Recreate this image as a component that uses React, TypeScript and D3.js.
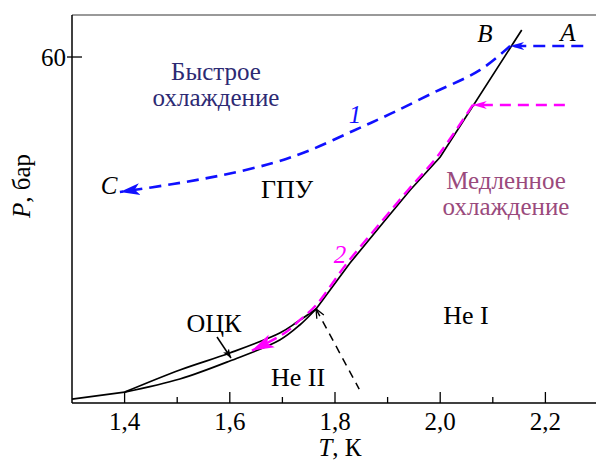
import React from 'react';
import * as d3 from 'd3';

type Pt = [number, number];

// T (K), P (bar)
const meltLow: Pt[] = [[1.3, 25.4], [1.4, 26.1]];
const bccUpper: Pt[] = [[1.4, 26.1], [1.505, 28.34], [1.6, 30.06], [1.695, 32.08], [1.728, 33.19], [1.764, 34.51]];
const bccLower: Pt[] = [[1.4, 26.1], [1.505, 27.43], [1.6, 29.25], [1.695, 31.37], [1.733, 32.89], [1.764, 34.51]];
const meltHigh: Pt[] = [[1.764, 34.51], [1.8285, 39.16], [1.891, 43.21], [1.943, 46.55], [2.0, 49.89], [2.155, 62.73]];
const lambdaLine: Pt[] = [[1.764, 34.51], [1.846, 26.4]];

const fastIn: Pt[] = [[2.272, 61.12], [2.133, 61.12]];
const fastPath: Pt[] = [[2.133, 61.12], [2.076, 58.69], [1.986, 56.36], [1.905, 54.24], [1.834, 52.52], [1.753, 50.59], [1.682, 49.28], [1.587, 48.07], [1.492, 47.15], [1.391, 46.35]];
const slowIn: Pt[] = [[2.237, 55.15], [2.062, 55.15]];
const slowPath: Pt[] = [[2.062, 55.15], [1.994, 49.9], [1.939, 46.55], [1.886, 43.2], [1.823, 39.16], [1.764, 34.9], [1.7335, 33.4], [1.705, 32.1], [1.642, 30.3]];

const xMajor = [1.4, 1.6, 1.8, 2.0, 2.2];
const xMinor = [1.5, 1.7, 1.9, 2.1];
const yTicks = [60];

const W = 596, H = 461;
const left = 72, right = 598, top = 15, bottom = 403;

const x = d3.scaleLinear().domain([1.3, 2.3]).range([left, right]);
const y = d3.scaleLinear().domain([25, 64.25]).range([bottom, top]);

const line = d3.line<Pt>().x(d => x(d[0])).y(d => y(d[1]));
const smooth = d3.line<Pt>().x(d => x(d[0])).y(d => y(d[1])).curve(d3.curveCatmullRom);

const font = "'Liberation Serif', 'DejaVu Serif', serif";
const BLUE = '#1010ff';
const MAG = '#ff00ff';

export default function App() {
  const fmt = (v: number) => v.toFixed(1).replace('.', ',');
  const T = (props: React.SVGProps<SVGTextElement>) => <text {...props} style={{ fontFamily: font }} />;
  return (
    <svg width={W} height={H} style={{ position: 'absolute', left: 0, top: 0, background: '#fff', fontFamily: font }}>
      <defs>
        <marker id="arrB" markerUnits="userSpaceOnUse" markerWidth="22" markerHeight="14" refX="20" refY="7" orient="auto" viewBox="0 0 22 14">
          <path d="M0,1 L20,7 L0,13 L5,7 Z" fill={BLUE} />
        </marker>
        <marker id="arrBs" markerUnits="userSpaceOnUse" markerWidth="16" markerHeight="10" refX="14" refY="5" orient="auto" viewBox="0 0 16 10">
          <path d="M0,1 L14,5 L0,9 L4,5 Z" fill={BLUE} />
        </marker>
        <marker id="arrM" markerUnits="userSpaceOnUse" markerWidth="24" markerHeight="16" refX="22" refY="8" orient="auto" viewBox="0 0 24 16">
          <path d="M0,1 L22,8 L0,15 L5,8 Z" fill={MAG} />
        </marker>
        <marker id="arrMs" markerUnits="userSpaceOnUse" markerWidth="16" markerHeight="10" refX="14" refY="5" orient="auto" viewBox="0 0 16 10">
          <path d="M0,1 L14,5 L0,9 L4,5 Z" fill={MAG} />
        </marker>
        <marker id="arrK" markerUnits="userSpaceOnUse" markerWidth="10" markerHeight="8" refX="9" refY="4" orient="auto" viewBox="0 0 10 8">
          <path d="M0,0.5 L9,4 L0,7.5 L2,4 Z" fill="#000" />
        </marker>
        <marker id="caret" markerUnits="userSpaceOnUse" markerWidth="12" markerHeight="10" refX="1" refY="5" orient="auto" viewBox="0 0 12 10">
          <path d="M10,1 L1,5 L10,9" fill="none" stroke="#000" strokeWidth="1.3" />
        </marker>
      </defs>

      {/* frame */}
      <line x1={left} x2={W} y1={top} y2={top} stroke="#777" strokeWidth={1.5} />
      <line x1={left} x2={left} y1={top} y2={bottom} stroke="#000" strokeWidth={1.5} />
      <line x1={left} x2={W} y1={bottom} y2={bottom} stroke="#000" strokeWidth={1.5} />

      {xMajor.map(t => (
        <g key={t}>
          <line x1={x(t)} x2={x(t)} y1={bottom} y2={bottom - 11} stroke="#000" strokeWidth={1.3} />
          <T x={x(t)} y={430} fontSize={25} textAnchor="middle">{fmt(t)}</T>
        </g>
      ))}
      {xMinor.map(t => (
        <line key={t} x1={x(t)} x2={x(t)} y1={bottom} y2={bottom - 6} stroke="#000" strokeWidth={1.3} />
      ))}
      {yTicks.map(p => (
        <g key={p}>
          <line x1={left - 5} x2={left + 10} y1={y(p)} y2={y(p)} stroke="#000" strokeWidth={1.3} />
          <T x={66} y={y(p) + 9} fontSize={25} textAnchor="end">{p}</T>
        </g>
      ))}

      <T x={340} y={456} fontSize={25} textAnchor="middle"><tspan fontStyle="italic">T</tspan>, К</T>
      <T transform="translate(30,186) rotate(-90)" fontSize={25} textAnchor="middle"><tspan fontStyle="italic">P</tspan>, бар</T>

      {/* phase boundaries */}
      <g fill="none" stroke="#000" strokeWidth={1.7}>
        <path d={line(meltLow) ?? ''} />
        <path d={smooth(bccUpper) ?? ''} />
        <path d={smooth(bccLower) ?? ''} />
        <path d={line(meltHigh) ?? ''} />
      </g>
      <path d={line(lambdaLine) ?? ''} fill="none" stroke="#000" strokeWidth={1.5} strokeDasharray="8,6" markerStart="url(#caret)" />

      {/* cooling paths */}
      <path d={line(fastIn) ?? ''} fill="none" stroke={BLUE} strokeWidth={2.6} strokeDasharray="12,7" markerEnd="url(#arrBs)" />
      <path d={smooth(fastPath) ?? ''} fill="none" stroke={BLUE} strokeWidth={2.6} strokeDasharray="12,7" markerEnd="url(#arrB)" />
      <path d={line(slowIn) ?? ''} fill="none" stroke={MAG} strokeWidth={2.4} strokeDasharray="11,7" markerEnd="url(#arrMs)" />
      <path d={smooth(slowPath) ?? ''} fill="none" stroke={MAG} strokeWidth={2.4} strokeDasharray="11,6" markerEnd="url(#arrM)" />

      {/* ОЦК pointer */}
      <line x1={217} y1={337} x2={231} y2={358} stroke="#000" strokeWidth={1.5} markerEnd="url(#arrK)" />

      {/* labels */}
      <T x={216} y={80} fontSize={25} textAnchor="middle" fill="#2d2a73">Быстрое</T>
      <T x={216} y={106} fontSize={25} textAnchor="middle" fill="#2d2a73">охлаждение</T>
      <T x={506} y={189} fontSize={25} textAnchor="middle" fill="#9a4a7c">Медленное</T>
      <T x={506} y={215} fontSize={25} textAnchor="middle" fill="#9a4a7c">охлаждение</T>
      <T x={287} y={198} fontSize={26} textAnchor="middle">ГПУ</T>
      <T x={214} y={332} fontSize={26} textAnchor="middle">ОЦК</T>
      <T x={298} y={386} fontSize={26} textAnchor="middle">He II</T>
      <T x={466} y={324} fontSize={26} textAnchor="middle">He I</T>
      <T x={109} y={194} fontSize={25} textAnchor="middle" fontStyle="italic">C</T>
      <T x={485} y={42} fontSize={25} textAnchor="middle" fontStyle="italic">B</T>
      <T x={568} y={41} fontSize={25} textAnchor="middle" fontStyle="italic">A</T>
      <T x={355} y={123} fontSize={25} textAnchor="middle" fontStyle="italic" fill={BLUE}>1</T>
      <T x={340} y={263} fontSize={25} textAnchor="middle" fontStyle="italic" fill={MAG}>2</T>
    </svg>
  );
}
